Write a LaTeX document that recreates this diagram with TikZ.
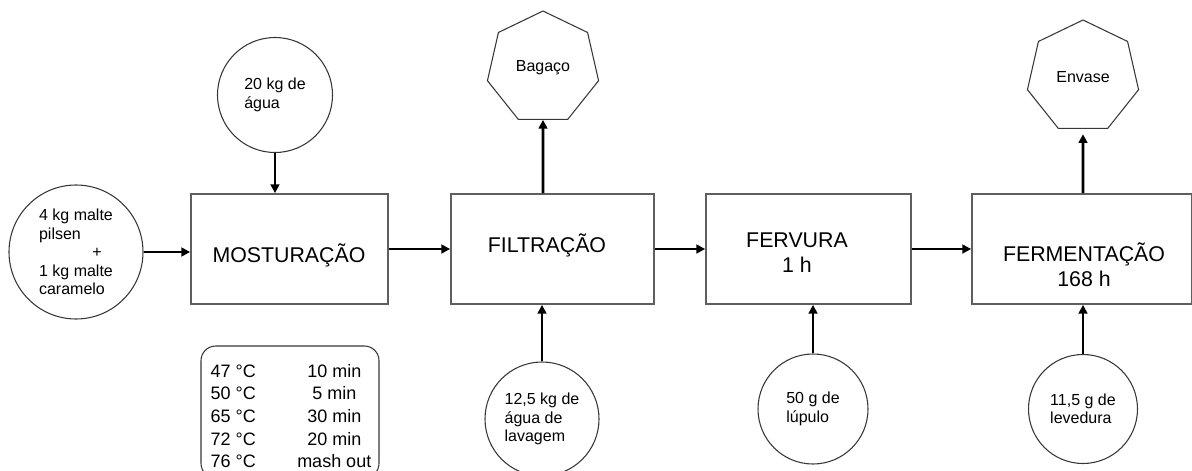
\documentclass[tikz,border=0pt]{standalone}
\usepackage{fontspec}
\setmainfont{Liberation Sans}
\usetikzlibrary{shapes.geometric,arrows.meta}

\definecolor{cbox}{RGB}{95,95,95}
\definecolor{cring}{RGB}{55,55,55}
\tikzset{
  flowsec/.style={x=0.75pt,y=-0.75pt},
  stage/.style={draw=cbox,line width=1.3pt,minimum height=82.5pt,inner sep=0pt},
  stagetxt/.style={align=center,inner sep=0pt,font=\fontsize{16}{18.75}\selectfont},
  feed/.style={circle,draw=cring,line width=0.8pt,inner sep=0pt,align=left,font=\fontsize{12}{13.9}\selectfont},
  waste/.style={regular polygon,regular polygon sides=7,draw=cring,line width=0.8pt,inner sep=0pt,minimum size=85.5pt,font=\fontsize{12}{13.9}\selectfont},
  flow/.style={line width=2pt,-{Triangle[length=6.5pt,width=6.5pt]}},
}

\begin{document}
\begin{tikzpicture}[flowsec]
  \useasboundingbox (0,0) rectangle (1192,471);
  % process stages
  \node[stage,minimum width=147.75pt] (mostura) at (289.5,249) {};
  \node[stage,minimum width=152.25pt] (filtra)  at (552.5,249) {};
  \node[stage,minimum width=153.75pt] (fervura) at (808.5,249) {};
  \node[stage,minimum width=165pt]    (ferment) at (1082,249) {};
  \node[stagetxt] (mosturaT) at (289,255)  {MOSTURAÇÃO};
  \node[stagetxt] (filtraT)  at (547,245)  {FILTRAÇÃO};
  \node[stagetxt] (fervuraT) at (797,253)  {FERVURA\\1 h};
  \node[stagetxt] (fermentT) at (1084,265) {FERMENTAÇÃO\\168 h};
  % inputs
  \node[feed,minimum size=100.5pt] (malte) at (76,252) {4 kg malte\\pilsen\\\hspace{40pt}+\\1 kg malte\\caramelo};
  \node[feed,minimum size=86.25pt] (agua) at (275,95) {20 kg de\\água};
  \node[feed,minimum size=85.5pt]  (lavagem) at (542,419) {12,5 kg de\\água de\\lavagem};
  \node[feed,minimum size=82.5pt]  (lupulo) at (813,409) {50 g de\\lúpulo};
  \node[feed,minimum size=81.75pt] (levedura) at (1083,409) {11,5 g de\\levedura};
  % outputs
  \node[waste] (bagaco) at (543,68) {Bagaço};
  \node[waste] (envase) at (1083,77) {Envase};
  % mash steps
  \draw[cring,line width=0.8pt,rounded corners=11pt] (201,346) rectangle (379,478);
  \node[inner sep=0pt,font=\fontsize{13.5}{16.9}\selectfont] (rampas) at (291,418) {%
    \begin{tabular}{@{}l@{\hspace{31pt}}c@{}}
      47 °C & 10 min\\
      50 °C & 5 min\\
      65 °C & 30 min\\
      72 °C & 20 min\\
      76 °C & mash out
    \end{tabular}};
  % main line
  \draw[flow] (malte) -- (malte -| mostura.west);
  \draw[flow] (mostura) -- (filtra);
  \draw[flow] (filtra) -- (fervura);
  \draw[flow] (fervura) -- (ferment);
  % side streams
  \draw[flow] (agua) -- (agua |- mostura.north);
  \draw[flow] (lavagem) -- (lavagem |- filtra.south);
  \draw[flow] (lupulo) -- (lupulo |- fervura.south);
  \draw[flow] (levedura) -- (levedura |- ferment.south);
  \draw[flow] (filtra.north -| bagaco) -- (bagaco);
  \draw[flow,shorten >=4pt] (ferment.north -| envase) -- (envase);
\end{tikzpicture}
\end{document}
